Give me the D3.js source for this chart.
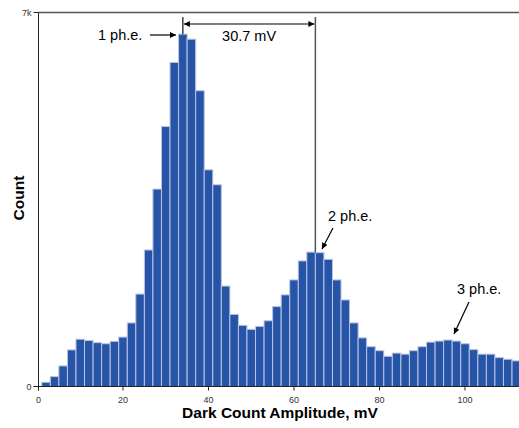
<!DOCTYPE html>
<html>
<head>
<meta charset="utf-8">
<script src="https://cdn.jsdelivr.net/npm/d3@7/dist/d3.min.js"></script>
<style>
  body { margin: 0; background: #fff; }
  svg { display: block; font-family: "Liberation Sans", Arial, sans-serif; }
</style>
</head>
<body>
<svg id="chart" width="519" height="428"></svg>
<script>
// bin centres (mV), 2 mV wide bins
const binCenters = [2, 4, 6, 8, 10, 12, 14, 16, 18, 20, 22, 24, 26, 28, 30, 32, 34, 36, 38, 40,
  42, 44, 46, 48, 50, 52, 54, 56, 58, 60, 62, 64, 66, 68, 70, 72, 74, 76, 78, 80,
  82, 84, 86, 88, 90, 92, 94, 96, 98, 100, 102, 104, 106, 108, 110, 112];
const counts = [80, 185, 385, 685, 885, 860, 820, 800, 845, 925, 1190, 1730, 2555, 3695, 4865, 6065, 6595, 6500, 5535, 4055,
  3775, 1880, 1350, 1145, 1070, 1125, 1230, 1495, 1715, 1995, 2350, 2515, 2505, 2380, 1995, 1620, 1190, 910, 745, 670,
  565, 625, 605, 670, 745, 830, 850, 870, 850, 800, 690, 605, 605, 540, 510, 480];
const xTicks = [0, 20, 40, 60, 80, 100];
const yTicks = [0, 7000];
const yTickLabels = ["0", "7k"];
const peakPositions = [34, 65]; // mV, 1 ph.e. and 2 ph.e. markers
const peakGapLabel = "30.7 mV";

const binWidth = 2;
const svg = d3.select("#chart");

const x = d3.scaleLinear().domain([0, 113]).range([37.5, 37.5 + 113 * 4.275]);
const y = d3.scaleLinear().domain([0, 7000]).range([386.5, 12.5]);
const axisX = 38.5;

// arrow marker
const defs = svg.append("defs");
defs.append("marker")
  .attr("id", "arr")
  .attr("viewBox", "0 0 10 10")
  .attr("refX", 10).attr("refY", 5)
  .attr("markerWidth", 9).attr("markerHeight", 6)
  .attr("markerUnits", "userSpaceOnUse")
  .attr("orient", "auto-start-reverse")
  .append("path").attr("d", "M0,0L10,5L0,10Z").attr("fill", "#000");

// bars
svg.append("g").selectAll("rect")
  .data(counts)
  .join("rect")
  .attr("x", (d, i) => x(binCenters[i] - binWidth / 2))
  .attr("width", x(binWidth) - x(0))
  .attr("y", d => y(d))
  .attr("height", d => y(0) - y(d))
  .attr("fill", "#2654a6")
  .attr("stroke", "#bcc3e4")
  .attr("stroke-width", 1);

// top frame line
svg.append("line")
  .attr("x1", axisX).attr("x2", 519)
  .attr("y1", y(7000)).attr("y2", y(7000))
  .attr("stroke", "#555").attr("stroke-width", 1.5);

// x axis
const xAxis = svg.append("g");
xAxis.append("line")
  .attr("x1", axisX).attr("x2", 519)
  .attr("y1", y(0)).attr("y2", y(0))
  .attr("stroke", "#222");
xTicks.forEach(t => {
  const px = t === 0 ? axisX : x(t);
  xAxis.append("line")
    .attr("x1", px).attr("x2", px)
    .attr("y1", y(0)).attr("y2", y(0) + 4)
    .attr("stroke", "#222");
  xAxis.append("text")
    .attr("x", px).attr("y", y(0) + 16)
    .attr("text-anchor", "middle")
    .attr("font-size", 9).attr("fill", "#333")
    .text(t);
});

// y axis
const yAxis = svg.append("g");
yAxis.append("line")
  .attr("x1", axisX).attr("x2", axisX)
  .attr("y1", y(7000)).attr("y2", y(0) + 4)
  .attr("stroke", "#222");
yTicks.forEach((t, i) => {
  yAxis.append("line")
    .attr("x1", axisX - 5).attr("x2", axisX)
    .attr("y1", y(t)).attr("y2", y(t))
    .attr("stroke", "#222");
  yAxis.append("text")
    .attr("x", axisX - 7).attr("y", y(t) + 3)
    .attr("text-anchor", "end")
    .attr("font-size", 9).attr("fill", "#333")
    .text(yTickLabels[i]);
});

// axis titles
svg.append("text")
  .attr("x", 280).attr("y", 418)
  .attr("text-anchor", "middle")
  .attr("font-size", 15.5).attr("font-weight", "bold")
  .text("Dark Count Amplitude, mV");
svg.append("text")
  .attr("transform", "translate(24,198) rotate(-90)")
  .attr("text-anchor", "middle")
  .attr("font-size", 15.5).attr("font-weight", "bold")
  .text("Count");

// annotations
const ann = svg.append("g").attr("font-size", 14.5).attr("fill", "#000");
const p1 = x(peakPositions[0]);
const p2 = x(peakPositions[1]);
ann.append("line")
  .attr("x1", p1).attr("x2", p1)
  .attr("y1", 17).attr("y2", y(counts[16]))
  .attr("stroke", "#111").attr("stroke-width", 1.2);
ann.append("line")
  .attr("x1", p2).attr("x2", p2)
  .attr("y1", 17).attr("y2", y(counts[32]))
  .attr("stroke", "#555").attr("stroke-width", 1.5);
ann.append("line")
  .attr("x1", p1 + 1).attr("x2", p2 - 1)
  .attr("y1", 24).attr("y2", 24)
  .attr("stroke", "#000").attr("stroke-width", 1.2)
  .attr("marker-start", "url(#arr)")
  .attr("marker-end", "url(#arr)");
ann.append("text")
  .attr("x", (p1 + p2) / 2).attr("y", 41)
  .attr("text-anchor", "middle")
  .text(peakGapLabel);

ann.append("text").attr("x", 98).attr("y", 40).text("1 ph.e.");
ann.append("line")
  .attr("x1", 150).attr("x2", 176)
  .attr("y1", 35).attr("y2", 35)
  .attr("stroke", "#000").attr("stroke-width", 1.2)
  .attr("marker-end", "url(#arr)");

ann.append("text").attr("x", 328).attr("y", 221).text("2 ph.e.");
ann.append("line")
  .attr("x1", 333).attr("x2", 322)
  .attr("y1", 228).attr("y2", 249)
  .attr("stroke", "#000").attr("stroke-width", 1.2)
  .attr("marker-end", "url(#arr)");

ann.append("text").attr("x", 457).attr("y", 294).text("3 ph.e.");
ann.append("line")
  .attr("x1", 469).attr("x2", 454)
  .attr("y1", 302).attr("y2", 334)
  .attr("stroke", "#000").attr("stroke-width", 1.2)
  .attr("marker-end", "url(#arr)");
</script>
</body>
</html>
